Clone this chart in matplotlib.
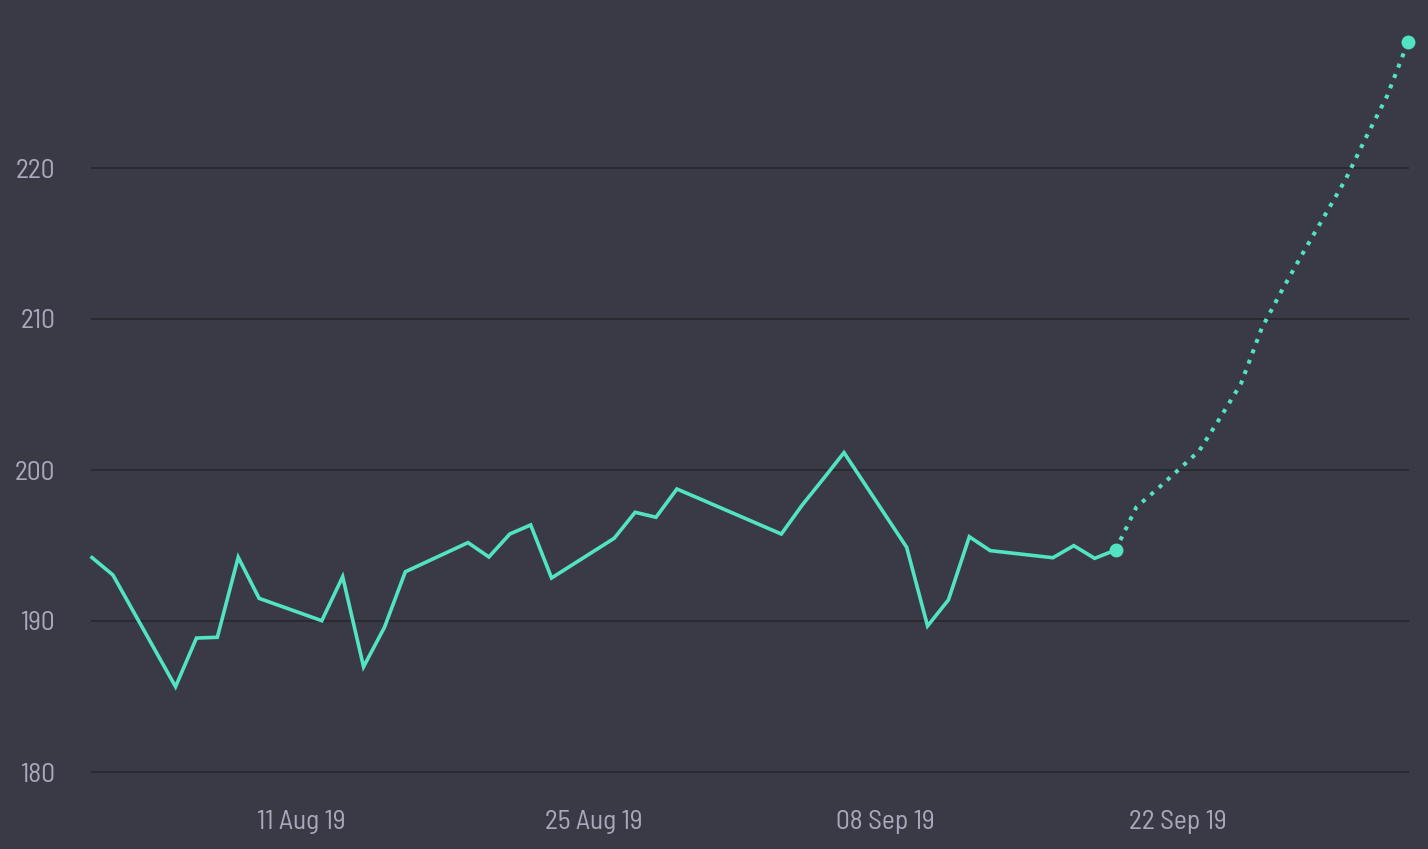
import matplotlib
matplotlib.use("Agg")
import matplotlib.pyplot as plt
import matplotlib.dates as mdates
import pandas as pd

# Actual (trading days)
actual_dates = ["2019-08-01", "2019-08-02", "2019-08-05", "2019-08-06", "2019-08-07",
                "2019-08-08", "2019-08-09", "2019-08-12", "2019-08-13", "2019-08-14",
                "2019-08-15", "2019-08-16", "2019-08-19", "2019-08-20", "2019-08-21",
                "2019-08-22", "2019-08-23", "2019-08-26", "2019-08-27", "2019-08-28",
                "2019-08-29", "2019-08-30", "2019-09-03", "2019-09-04", "2019-09-05",
                "2019-09-06", "2019-09-09", "2019-09-10", "2019-09-11", "2019-09-12",
                "2019-09-13", "2019-09-16", "2019-09-17", "2019-09-18", "2019-09-19"]
actual_values = [194.2, 193.05, 185.65, 188.87, 188.92,
                 194.22, 191.5, 190.02, 192.93, 186.97,
                 189.58, 193.26, 195.19, 194.24, 195.76,
                 196.36, 192.85, 195.48, 197.2, 196.87,
                 198.74, 198.15, 195.76, 197.68, 199.4,
                 201.15, 194.88, 189.67, 191.4, 195.58,
                 194.66, 194.19, 194.99, 194.15, 194.7]

# Forecast (calendar days)
forecast_dates = ["2019-09-19", "2019-09-20", "2019-09-21", "2019-09-22", "2019-09-23",
                  "2019-09-24", "2019-09-25", "2019-09-26", "2019-09-27", "2019-09-28",
                  "2019-09-29", "2019-09-30", "2019-10-01", "2019-10-02", "2019-10-03"]
forecast_values = [194.7, 197.55, 198.74, 200.0, 201.26,
                   203.44, 205.7, 209.4, 211.99, 214.44,
                   216.82, 219.21, 222.05, 224.77, 228.34]

y_ticks = [180, 190, 200, 210, 220]
x_ticks = ["2019-08-11", "2019-08-25", "2019-09-08", "2019-09-22"]

BG = "#3a3a47"
LINE = "#52e3c2"
GRID = "#2a2a33"
TXT = "#a9a9bc"

ad = pd.to_datetime(actual_dates)
fd = pd.to_datetime(forecast_dates)

fig = plt.figure(figsize=(14.28, 8.49), dpi=100, facecolor=BG)
ax = fig.add_axes([92 / 1428, (849 - 772) / 849, (1408 - 92) / 1428, (772 - 17) / 849])
ax.set_facecolor(BG)

ax.plot(ad, actual_values, color=LINE, lw=2.6, solid_joinstyle="miter", zorder=3, clip_on=False)
ax.plot(fd, forecast_values, color=LINE, lw=2.9, linestyle=(0, (1, 1.75)),
        dash_capstyle="butt", zorder=3, clip_on=False)
ax.plot([ad[-1], fd[-1]], [actual_values[-1], forecast_values[-1]], "o",
        color=LINE, markersize=10, markeredgewidth=0, zorder=4, clip_on=False)

ax.set_xlim(pd.Timestamp("2019-08-01"), pd.Timestamp("2019-10-03"))
ax.set_ylim(180, 230)
ax.set_yticks(y_ticks)
ax.set_xticks(pd.to_datetime(x_ticks))
ax.xaxis.set_major_formatter(mdates.DateFormatter("%d %b %y"))

ax.grid(axis="y", color=GRID, lw=1.4)
ax.grid(axis="x", visible=False)
ax.set_axisbelow(True)
for gl in ax.get_ygridlines():
    gl.set_clip_on(False)
for s in ax.spines.values():
    s.set_visible(False)

font = ["Barlow Semi Condensed", "Barlow Condensed", "DejaVu Sans"]
ax.tick_params(axis="both", length=0, colors=TXT, labelsize=19.8)
ax.tick_params(axis="y", pad=26.5)
ax.tick_params(axis="x", pad=27)
for lab in ax.get_xticklabels() + ax.get_yticklabels():
    lab.set_fontfamily(font)
    lab.set_color(TXT)

fig.savefig("out.png", dpi=100, facecolor=BG)
